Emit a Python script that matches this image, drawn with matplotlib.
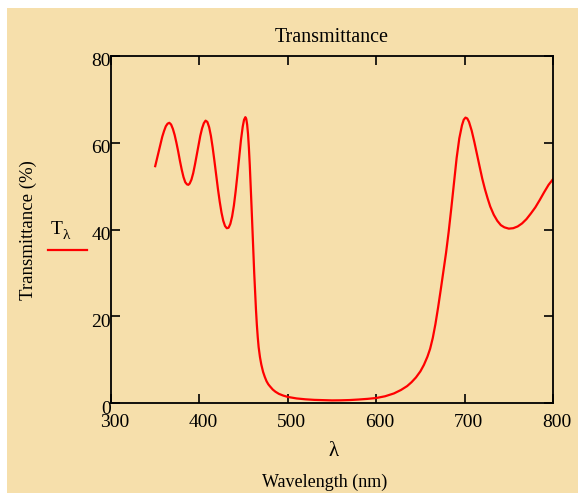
import matplotlib
matplotlib.use("Agg")
import matplotlib.pyplot as plt
from matplotlib.patches import Rectangle
from matplotlib.transforms import ScaledTranslation

# wavelength (nm) and transmittance (%)
wavelength = [350, 352, 354, 356, 358, 360, 362, 364, 366, 368,
              370, 372, 374, 376, 378, 380, 382, 384, 386, 387.5,
              389, 391, 393, 395, 397, 399, 401, 403, 405, 407,
              409, 411, 413, 415, 417, 419, 421, 423, 425, 427,
              429, 431, 433, 435, 437, 439, 441, 443, 445, 447,
              449, 450.5, 452, 453, 454, 455, 456, 457, 458, 459,
              460, 461, 462, 463, 464, 465, 466, 467, 468.5, 470,
              472, 474, 476, 478, 480, 483, 486, 490, 495, 500,
              510, 520, 530, 540, 550, 560, 570, 580, 590, 600,
              610, 620, 628, 635, 640, 645, 650, 654, 658, 661,
              664, 667, 670, 673, 676, 679, 682, 685, 688, 691,
              694, 697, 699, 701, 703, 705, 708, 711, 714, 717,
              720, 723, 726, 729, 733, 737, 741, 745, 750, 755,
              760, 765, 770, 775, 780, 785, 790, 795, 800]
transmittance = [54.6, 56.3, 58.0, 59.8, 61.4, 62.7, 63.8, 64.4, 64.6, 64.2,
                 63.2, 61.8, 60.0, 58.0, 55.8, 53.8, 52.1, 50.9, 50.4, 50.3,
                 50.6, 51.5, 53.0, 55.0, 57.2, 59.5, 61.6, 63.3, 64.5, 65.1,
                 64.8, 63.6, 61.6, 58.9, 55.8, 52.5, 49.3, 46.4, 43.9, 42.0,
                 40.8, 40.3, 40.4, 41.3, 43.0, 45.5, 48.8, 52.6, 56.7, 60.6,
                 63.7, 65.3, 65.9, 65.5, 64.2, 62.0, 58.8, 54.8, 50.2, 45.2,
                 40.0, 35.0, 30.0, 25.5, 21.5, 18.0, 15.2, 12.9, 10.6, 8.9,
                 7.2, 6.0, 5.0, 4.3, 3.8, 3.1, 2.6, 2.1, 1.7, 1.4,
                 1.05, 0.85, 0.72, 0.65, 0.6, 0.62, 0.68, 0.8, 0.95, 1.15,
                 1.55, 2.2, 3.0, 3.9, 4.8, 5.9, 7.3, 8.8, 10.7, 12.5,
                 15.0, 18.2, 22.0, 26.1, 30.4, 34.6, 39.5, 45.0, 50.8, 56.5,
                 61.0, 64.0, 65.3, 65.8, 65.6, 64.8, 62.8, 60.2, 57.3, 54.5,
                 51.7, 49.3, 47.2, 45.3, 43.4, 42.0, 41.0, 40.5, 40.2, 40.3,
                 40.7, 41.4, 42.4, 43.7, 45.1, 46.8, 48.6, 50.3, 51.6]

x_ticks = [300, 400, 500, 600, 700, 800]
y_ticks = [0, 20, 40, 60, 80]

wheat = "#F6DFAB"
plt.rcParams["font.family"] = ["Liberation Serif", "DejaVu Serif"]

W, H = 578, 493
fig = plt.figure(figsize=(W / 100, H / 100), dpi=100, facecolor="white")
fig.patches.append(Rectangle((7 / W, 0), 1, (H - 8) / H, transform=fig.transFigure,
                             facecolor=wheat, edgecolor="none", zorder=-10))

ax = fig.add_axes([111 / W, 90 / H, 442 / W, 347 / H])
ax.set_facecolor("none")
ax.plot(wavelength, transmittance, color="red", lw=1.6)

ax.set_xlim(300, 800)
ax.set_ylim(0, 80)
ax.set_xticks(x_ticks)
ax.set_yticks(y_ticks)
ax.tick_params(direction="in", length=6.5, width=1.2, labelsize=14,
               top=True, right=True)
ax.tick_params(axis="x", pad=8)
ax.tick_params(axis="y", pad=0)
for s in ax.spines.values():
    s.set_linewidth(1.3)

# Mathcad puts its tick labels a little right of / below the ticks
for lab in ax.get_xticklabels():
    lab.set_transform(lab.get_transform() + ScaledTranslation(0.04, 0, fig.dpi_scale_trans))
for lab in ax.get_yticklabels():
    lab.set_transform(lab.get_transform() + ScaledTranslation(0, -0.04, fig.dpi_scale_trans))

ax.set_title("Transmittance", fontsize=14.5, pad=10)
fig.text(28 / W, 1 - 230 / H, "Transmittance (%)", rotation=90,
         ha="center", va="center", fontsize=13.5)
fig.text(334 / W, 1 - 451 / H, "λ", ha="center", va="center", fontsize=15)
fig.text(325 / W, 1 - 482 / H, "Wavelength (nm)", ha="center", va="center",
         fontsize=13)

# legend entry
fig.text(57 / W, 1 - 229 / H, "T", ha="center", va="center", fontsize=14)
fig.text(66 / W, 1 - 236 / H, "λ", ha="center", va="center", fontsize=11)
fig.add_artist(plt.Line2D([48 / W, 87 / W], [1 - 250 / H, 1 - 250 / H],
                          transform=fig.transFigure, color="red", lw=1.6))

fig.savefig("out.png", dpi=100, facecolor="white")
